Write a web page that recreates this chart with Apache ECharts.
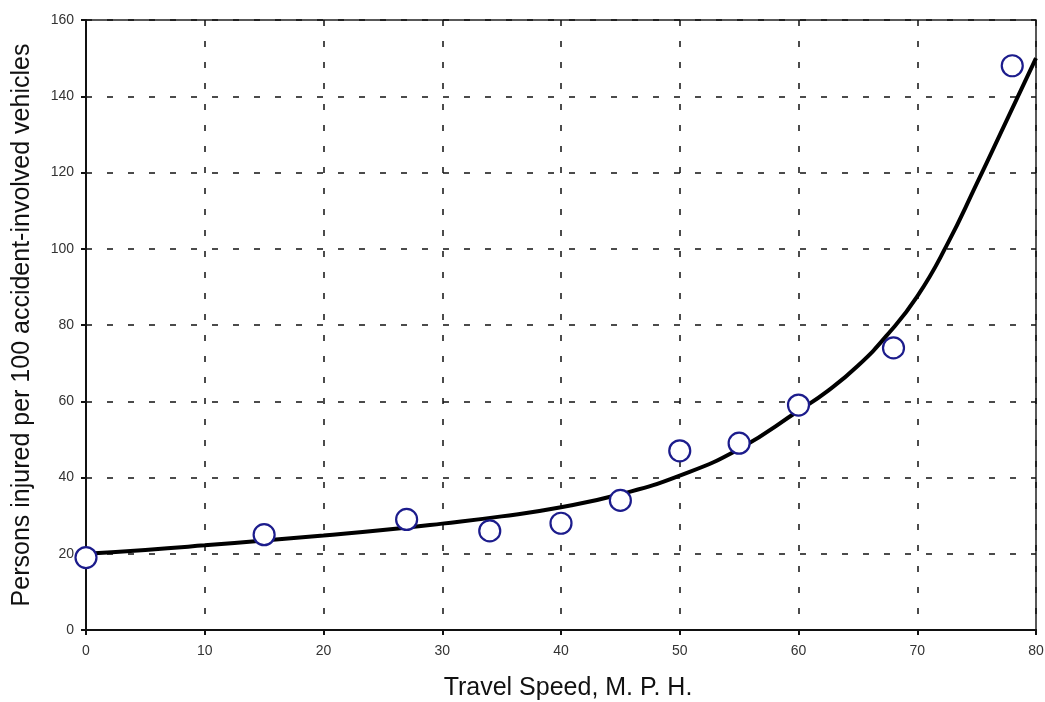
<!DOCTYPE html>
<html>
<head>
<meta charset="utf-8">
<script src="https://cdn.jsdelivr.net/npm/echarts@6/dist/echarts.min.js"></script>
<style>
html,body{margin:0;padding:0;background:#fff;}
#chart{width:1045px;height:702px;}
</style>
</head>
<body>
<div id="chart"></div>
<script>
// Observed data points (speed mph, persons injured per 100 vehicles)
const pointSpeeds = [0, 15, 27, 34, 40, 45, 50, 55, 60, 68, 78];
const pointInjured = [19, 25, 29, 26, 28, 34, 47, 49, 59, 74, 148];
// Fitted curve
const curveSpeeds = [0, 5, 10, 15, 20, 25, 30, 35, 40, 45, 50, 55, 60, 62.5, 65, 67.5, 70, 72.5, 75, 77.5, 80];
const curveInjured = [20, 21, 22.2, 23.5, 24.8, 26.2, 27.9, 29.8, 32.2, 35.6, 40.5, 47.5, 57.5, 62.8, 69.3, 77.5, 87.5, 101, 117, 133.5, 150];

const xTitle = 'Travel Speed, M. P. H.';
const yTitle = 'Persons injured per 100 accident-involved vehicles';

const chart = echarts.init(document.getElementById('chart'), null, {renderer: 'canvas'});
const font = '"Liberation Sans", Arial, sans-serif';
chart.setOption({
  animation: false,
  backgroundColor: '#ffffff',
  grid: {left: 86, top: 20, right: 9, bottom: 72, containLabel: false, outerBoundsMode: 'none',
         show: true, borderColor: '#222', borderWidth: 1.5, backgroundColor: 'transparent'},
  xAxis: {
    type: 'value', min: 0, max: 80, interval: 10,
    name: xTitle, nameLocation: 'middle', nameGap: 46,
    nameTextStyle: {fontFamily: font, fontSize: 25, color: '#111', padding: [0, 0, 0, 14]},
    axisLine: {show: true, onZero: false, lineStyle: {color: '#111', width: 2}},
    axisTick: {show: true, length: 5, lineStyle: {color: '#111', width: 2}},
    axisLabel: {fontFamily: font, fontSize: 14, color: '#333', margin: 14},
    splitLine: {show: true, lineStyle: {color: '#111', width: 1.5, type: [6, 15]}}
  },
  yAxis: {
    type: 'value', min: 0, max: 160, interval: 20,
    name: yTitle, nameLocation: 'middle', nameGap: 51,
    nameTextStyle: {fontFamily: font, fontSize: 25, color: '#111'},
    axisLine: {show: true, onZero: false, lineStyle: {color: '#111', width: 2}},
    axisTick: {show: true, length: 5, lineStyle: {color: '#111', width: 2}},
    axisLabel: {fontFamily: font, fontSize: 14, color: '#333', margin: 12},
    splitLine: {show: true, lineStyle: {color: '#111', width: 1.5, type: [6, 15]}}
  },
  series: [
    {
      type: 'line',
      data: curveSpeeds.map((x, i) => [x, curveInjured[i]]),
      smooth: 0.5,
      showSymbol: false,
      lineStyle: {color: '#000', width: 4},
      z: 2
    },
    {
      type: 'scatter',
      data: pointSpeeds.map((x, i) => [x, pointInjured[i]]),
      symbol: 'circle',
      symbolSize: 21,
      itemStyle: {color: '#ffffff', borderColor: '#1c1c8c', borderWidth: 2.2, opacity: 1},
      z: 3
    }
  ]
});
</script>
</body>
</html>
